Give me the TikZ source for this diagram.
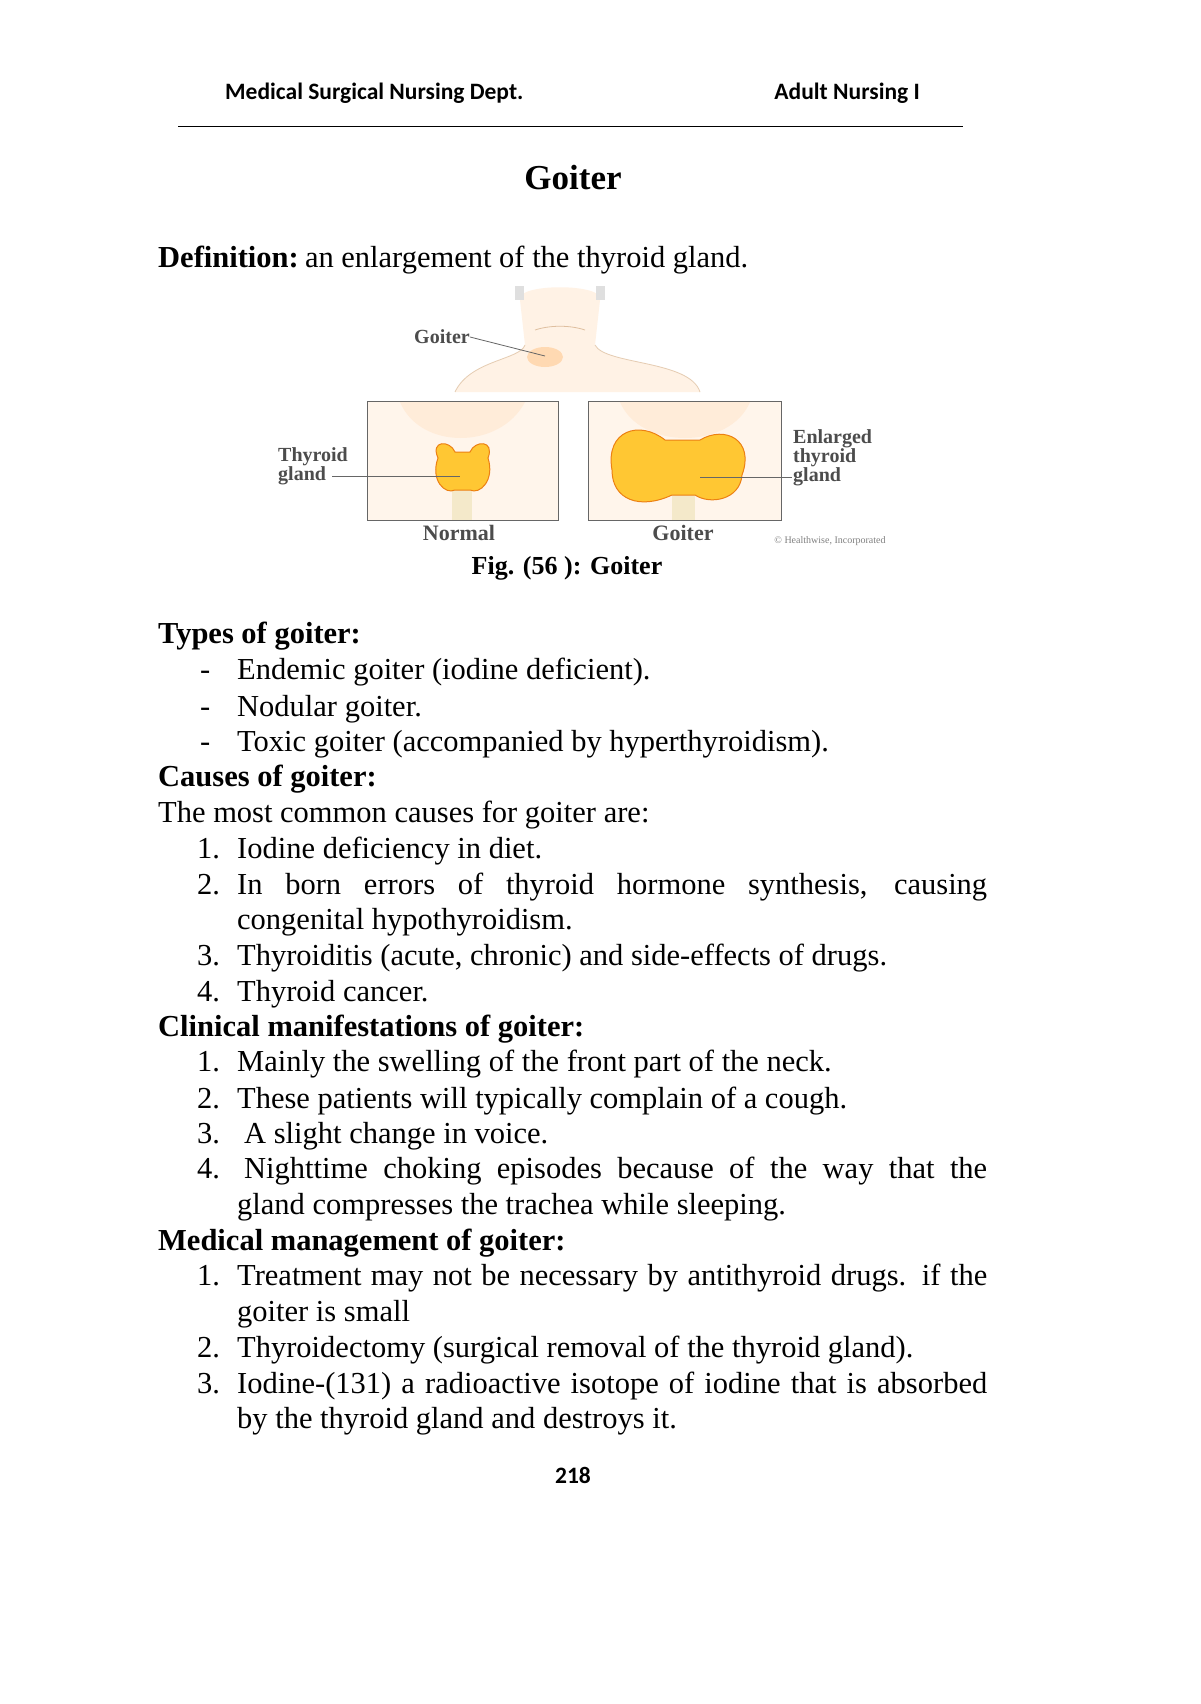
\documentclass[tikz,border=0pt]{standalone}
\usepackage{fontspec}
\setmainfont{Liberation Serif}
\newfontfamily\hdr{Carlito}
\begin{document}
\begin{tikzpicture}[x=1pt,y=-1pt,
 tx/.style={anchor=base west,inner sep=0pt,font=\fontsize{30.5}{34}\selectfont},
 hd/.style={anchor=base,inner sep=0pt,font=\hdr\bfseries\fontsize{23.5}{26}\selectfont},
 lb/.style={inner sep=0pt,font=\bfseries\fontsize{20}{19}\selectfont,text=black!70,align=left},
 ptr/.style={draw=black!60,line width=0.8pt},
 gland/.style={fill=orange!55!yellow!80!white,draw=orange!70!brown,line width=1pt}]
\useasboundingbox (0,0) rectangle (1200,1704);
\fill[white] (0,0) rectangle (1200,1704);
\newcommand{\jl}[1]{\makebox[750pt][s]{#1}}
% header
\node[hd,anchor=base west] (h1) at (225,100) {Medical Surgical Nursing Dept.};
\node[hd,anchor=base east] (h2) at (920,100) {Adult Nursing I};
\coordinate (l1) at (178,127); \coordinate (l2) at (963,127);
\draw[line width=1pt] (l1) -- (l2);
\node[anchor=base,inner sep=0pt,font=\bfseries\fontsize{35}{38}\selectfont] (title) at (573,190) {Goiter};
\node[tx] (def) at (158,267) {\textbf{Definition:}\hspace{-4pt} an enlargement of the thyroid gland.};
% figure
\begin{scope}
\fill[orange!10!white] (455,392) .. controls (470,360) and (520,360) .. (525,345) -- (520,300) .. controls (515,283) and (605,283) .. (600,300) -- (595,345) .. controls (605,365) and (690,360) .. (700,392) -- cycle;
\draw[brown!40,line width=0.8pt] (455,392) .. controls (470,360) and (520,360) .. (525,345);
\draw[brown!40,line width=0.8pt] (595,345) .. controls (605,365) and (690,360) .. (700,392);
\draw[brown!50,line width=0.8pt] (535,330) .. controls (550,325) and (570,325) .. (585,330);
\fill[gray!25] (515,286) rectangle (524,300); \fill[gray!25] (596,286) rectangle (605,300);
\fill[orange!30!white] (545,357) ellipse (18 and 10);
\node[lb] (gt) at (442,337) {Goiter};
\coordinate (gp) at (545,356);
\draw[ptr] (gt.east) -- (gp);
% normal box
\node[draw=black!60,line width=1pt,minimum width=191,minimum height=119,inner sep=0pt,fill=orange!8!white] (nb) at (462.5,460.5) {};
\fill[orange!15!white] (400,402) .. controls (420,450) and (500,450) .. (525,402) -- cycle;
\fill[yellow!30!brown!25!white] (452,470) rectangle (472,520);
\draw[gland] (438,458) .. controls (430,440) and (450,440) .. (455,452) -- (470,452) .. controls (475,440) and (495,440) .. (488,458) .. controls (495,480) and (480,495) .. (470,490) -- (455,490) .. controls (445,495) and (430,480) .. (438,458) -- cycle;
\node[lb,anchor=west] (tg) at (278,466) {Thyroid\\gland};
\coordinate (tgp) at (460,476);
\draw[ptr] (332,476) -- (tgp);
\node[lb,font=\bfseries\fontsize{22}{22}\selectfont] (nl) at (459,533) {Normal};
% goiter box
\node[draw=black!60,line width=1pt,minimum width=193,minimum height=119,inner sep=0pt,fill=orange!8!white] (gb) at (684.5,460.5) {};
\fill[orange!15!white] (620,402) .. controls (640,450) and (730,450) .. (750,402) -- cycle;
\fill[yellow!30!brown!25!white] (672,490) rectangle (695,520);
\draw[gland] (612,470) .. controls (605,430) and (640,420) .. (665,440) -- (700,440) .. controls (725,425) and (755,440) .. (742,475) .. controls (740,500) and (710,505) .. (695,495) -- (672,495) .. controls (640,510) and (612,500) .. (612,470) -- cycle;
\node[lb,anchor=west] (eg) at (793,458) {Enlarged\\thyroid\\gland};
\coordinate (egp) at (700,477);
\draw[ptr] (egp) -- (792,477);
\node[lb,font=\bfseries\fontsize{22}{22}\selectfont] (gl) at (683,533) {Goiter};
\node[lb,font=\fontsize{10}{10}\selectfont,text=black!50] (cp) at (830,541) {\textcopyright{} Healthwise, Incorporated};
\end{scope}
\node[anchor=base,inner sep=0pt,font=\bfseries\fontsize{26}{28}\selectfont] (fig) at (567,574) {Fig. (56 ): Goiter};
% types
\node[tx] (t0) at (158,643) {\textbf{Types of goiter:}};
\node[tx] (d1) at (200,679) {-}; \node[tx] (t1) at (237,679) {Endemic goiter (iodine deficient).};
\node[tx] (d2) at (200,716) {-}; \node[tx] (t2) at (237,716) {Nodular goiter.};
\node[tx] (d3) at (200,751) {-}; \node[tx] (t3) at (237,751) {Toxic goiter (accompanied by hyperthyroidism).};
% causes
\node[tx] (c0) at (158,786) {\textbf{Causes of goiter:}};
\node[tx] (c00) at (158,822) {The most common causes for goiter are:};
\node[tx] (cn1) at (197,858) {1.}; \node[tx] (c1) at (237,858) {Iodine deficiency in diet.};
\node[tx] (cn2) at (197,894) {2.}; \node[tx] (c2) at (237,894) {\jl{In born errors of thyroid hormone synthesis, causing}};
\node[tx] (c2b) at (237,929) {congenital hypothyroidism.};
\node[tx] (cn3) at (197,965) {3.}; \node[tx] (c3) at (237,965) {Thyroiditis (acute, chronic) and side-effects of drugs.};
\node[tx] (cn4) at (197,1001) {4.}; \node[tx] (c4) at (237,1001) {Thyroid cancer.};
% clinical
\node[tx] (m0) at (158,1036) {\textbf{Clinical manifestations of goiter:}};
\node[tx] (mn1) at (197,1071) {1.}; \node[tx] (m1) at (237,1071) {Mainly the swelling of the front part of the neck.};
\node[tx] (mn2) at (197,1108) {2.}; \node[tx] (m2) at (237,1108) {These patients will typically complain of a cough.};
\node[tx] (mn3) at (197,1143) {3.}; \node[tx] (m3) at (244,1143) {A slight change in voice.};
\node[tx] (mn4) at (197,1178) {4.}; \node[tx] (m4) at (244,1178) {\makebox[743pt][s]{Nighttime choking episodes because of the way that the}};
\node[tx] (m4b) at (237,1214) {gland compresses the trachea while sleeping.};
% management
\node[tx] (g0) at (158,1250) {\textbf{Medical management of goiter:}};
\node[tx] (gn1) at (197,1285) {1.}; \node[tx] (g1) at (237,1285) {\jl{Treatment may not be necessary by antithyroid drugs. if the}};
\node[tx] (g1b) at (237,1321) {goiter is small};
\node[tx] (gn2) at (197,1357) {2.}; \node[tx] (g2) at (237,1357) {Thyroidectomy (surgical removal of the thyroid gland).};
\node[tx] (gn3) at (197,1393) {3.}; \node[tx] (g3) at (237,1393) {\jl{Iodine-(131) a radioactive isotope of iodine that is absorbed}};
\node[tx] (g3b) at (237,1428) {by the thyroid gland and destroys it.};
\node[hd] (pg) at (573,1483) {218};
\end{tikzpicture}
\end{document}
